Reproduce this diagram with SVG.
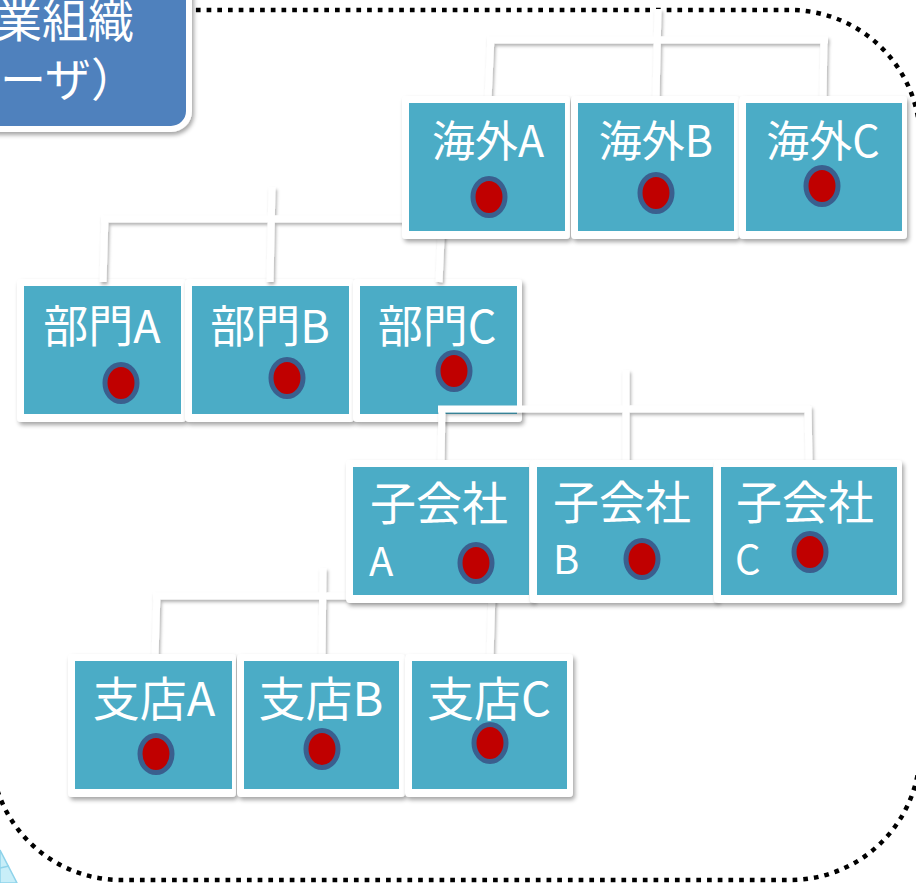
<svg xmlns="http://www.w3.org/2000/svg" width="916" height="883" viewBox="0 0 916 883">
<defs>
<filter id="sh" x="-20%" y="-20%" width="140%" height="140%">
<feDropShadow dx="2" dy="3" stdDeviation="2" flood-color="#000" flood-opacity="0.35"/>
</filter>
<filter id="shl" filterUnits="userSpaceOnUse" x="0" y="0" width="916" height="883">
<feDropShadow dx="1.5" dy="2.5" stdDeviation="1.5" flood-color="#000" flood-opacity="0.3"/>
</filter>
</defs>
<style>
.frame{fill:none;stroke:#000;stroke-width:4.5;stroke-dasharray:4.7 6}
.title{fill:#4F81BD;stroke:#fff;stroke-width:6;filter:url(#sh)}
.tt{fill:#fff;font-family:"Noto Sans CJK JP","Noto Sans",sans-serif;font-size:46px}
.outer{fill:#fff;filter:url(#sh)}
.inner{fill:#4BACC6}
.lbl{fill:#fff;font-family:"Noto Sans CJK JP","Noto Sans",sans-serif;text-anchor:middle}
.lbs{fill:#fff;font-family:"Noto Sans CJK JP","Noto Sans",sans-serif}
.dot{fill:#C00000;stroke:#3A5F8E;stroke-width:5}
.conn{filter:url(#shl)}
.conn line{stroke:#fff;stroke-width:7}
</style>
<rect width="916" height="883" fill="#fff"/>
<rect class="frame" x="-9" y="10" width="929" height="870" rx="130" ry="130"/>
<g id="corner-shape">
<polygon points="0,850 17,883 0,883" fill="#C8EEF8" stroke="#8FD3EA" stroke-width="1.5"/>
<line x1="0" y1="868" x2="9" y2="866" stroke="#8FD3EA" stroke-width="1.5"/>
</g>
<g id="title">
<rect class="title" x="-30" y="-30" width="219" height="159" rx="18" ry="18"/>
<text class="tt" x="-4" y="37">業組織</text>
<text class="tt" x="0" y="96">ーザ）</text>
</g>

<g id="bumonA"><rect class="outer" x="17" y="279" width="169" height="143" rx="4"/><rect class="inner" x="24" y="286" width="157" height="128"/><text class="lbl" x="102" y="343" font-size="45">部門A</text><ellipse class="dot" cx="121" cy="383" rx="16" ry="18.5"/></g>
<g id="bumonB"><rect class="outer" x="185" y="279" width="169" height="143" rx="4"/><rect class="inner" x="192" y="286" width="157" height="128"/><text class="lbl" x="270" y="343" font-size="45">部門B</text><ellipse class="dot" cx="287" cy="378" rx="16" ry="18.5"/></g>
<g id="bumonC"><rect class="outer" x="353" y="279" width="169" height="143" rx="4"/><rect class="inner" x="360" y="286" width="157" height="128"/><text class="lbl" x="437" y="343" font-size="45">部門C</text><ellipse class="dot" cx="454" cy="371" rx="16" ry="18.5"/></g>

<g id="connectors" class="conn">
<line x1="487" y1="40" x2="828" y2="40"/>
<line x1="491" y1="37" x2="488" y2="99"/>
<line x1="658" y1="9" x2="656" y2="99"/>
<line x1="824" y1="37" x2="823" y2="99"/>

<line x1="101" y1="219" x2="442" y2="219"/>
<line x1="105" y1="216" x2="103" y2="282"/>
<line x1="272" y1="187" x2="270" y2="282"/>
<line x1="442" y1="216" x2="439" y2="282"/>

<line x1="438" y1="409" x2="810" y2="409"/>
<line x1="442" y1="406" x2="441" y2="462"/>
<line x1="626" y1="370" x2="626" y2="462"/>
<line x1="808" y1="406" x2="809" y2="462"/>

<line x1="153" y1="596" x2="492" y2="596"/>
<line x1="157" y1="593" x2="155" y2="657"/>
<line x1="323" y1="568" x2="322" y2="657"/>
<line x1="492" y1="593" x2="490" y2="657"/>
</g>

<g id="kaigaiA"><rect class="outer" x="402" y="96" width="168" height="143" rx="4"/><rect class="inner" x="409" y="103" width="156" height="128"/><text class="lbl" x="488" y="157" font-size="43">海外A</text><ellipse class="dot" cx="489" cy="197" rx="16" ry="18.5"/></g>
<g id="kaigaiB"><rect class="outer" x="571" y="96" width="168" height="143" rx="4"/><rect class="inner" x="578" y="103" width="156" height="128"/><text class="lbl" x="656" y="157" font-size="43">海外B</text><ellipse class="dot" cx="656" cy="193" rx="16" ry="18.5"/></g>
<g id="kaigaiC"><rect class="outer" x="739" y="96" width="168" height="143" rx="4"/><rect class="inner" x="746" y="103" width="156" height="128"/><text class="lbl" x="823" y="157" font-size="43">海外C</text><ellipse class="dot" cx="822" cy="186" rx="16" ry="18.5"/></g>

<g id="kogaishaA"><rect class="outer" x="346" y="460" width="188" height="143" rx="4"/><rect class="inner" x="353" y="467" width="176" height="128"/><text class="lbs" x="370" y="520" font-size="46">子会社</text><text class="lbs" x="369" y="576" font-size="40">A</text><ellipse class="dot" cx="476" cy="563" rx="16" ry="18.5"/></g>
<g id="kogaishaB"><rect class="outer" x="530" y="460" width="188" height="143" rx="4"/><rect class="inner" x="537" y="467" width="176" height="128"/><text class="lbs" x="553" y="519" font-size="46">子会社</text><text class="lbs" x="553" y="574" font-size="40">B</text><ellipse class="dot" cx="642" cy="559" rx="16" ry="18.5"/></g>
<g id="kogaishaC"><rect class="outer" x="714" y="460" width="188" height="143" rx="4"/><rect class="inner" x="721" y="467" width="176" height="128"/><text class="lbs" x="736" y="519" font-size="46">子会社</text><text class="lbs" x="735" y="574" font-size="40">C</text><ellipse class="dot" cx="810" cy="552" rx="16" ry="18.5"/></g>

<g id="shitenA"><rect class="outer" x="68" y="654" width="168" height="143" rx="4"/><rect class="inner" x="75" y="661" width="157" height="128"/><text class="lbl" x="154" y="716" font-size="47">支店A</text><ellipse class="dot" cx="156" cy="754" rx="16" ry="18.5"/></g>
<g id="shitenB"><rect class="outer" x="237" y="654" width="168" height="143" rx="4"/><rect class="inner" x="244" y="661" width="155" height="128"/><text class="lbl" x="321" y="716" font-size="47">支店B</text><ellipse class="dot" cx="322" cy="749" rx="16" ry="18.5"/></g>
<g id="shitenC"><rect class="outer" x="405" y="654" width="168" height="143" rx="4"/><rect class="inner" x="412" y="661" width="155" height="128"/><text class="lbl" x="489" y="716" font-size="47">支店C</text><ellipse class="dot" cx="490" cy="743" rx="16" ry="18.5"/></g>
</svg>
